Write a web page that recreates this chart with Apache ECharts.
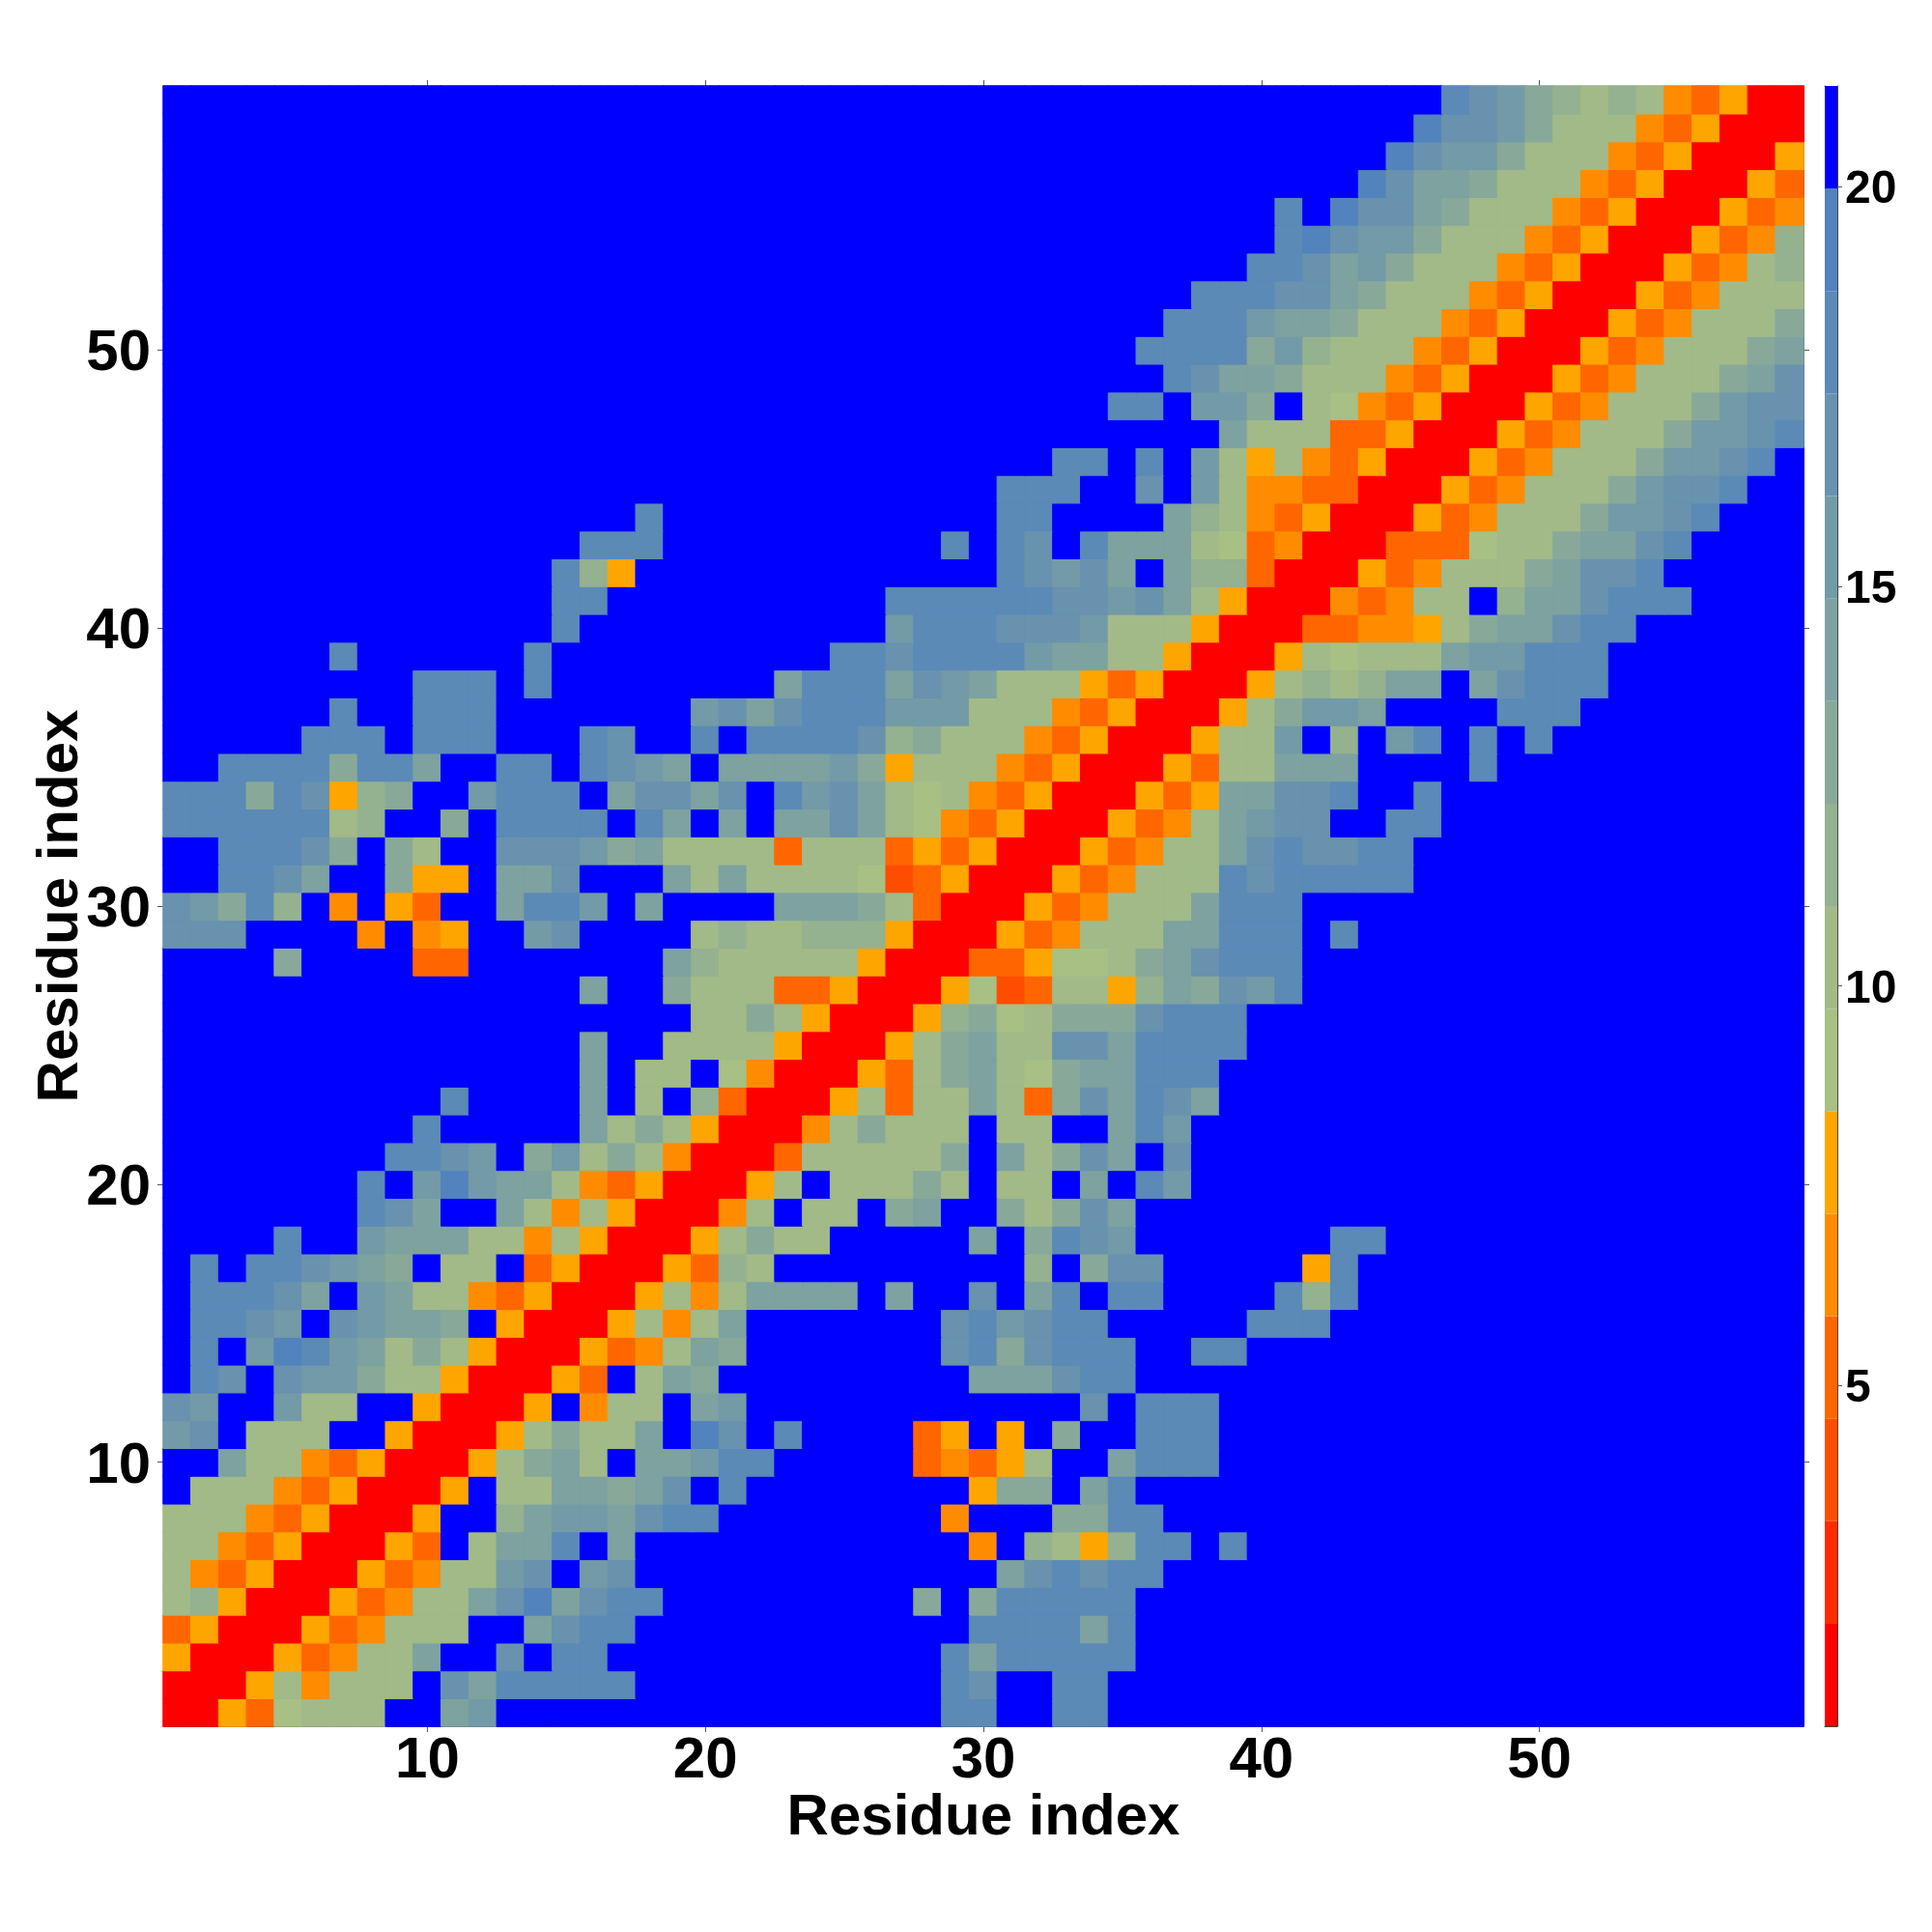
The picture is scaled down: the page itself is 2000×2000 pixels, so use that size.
<!DOCTYPE html>
<html>
<head>
<meta charset="utf-8">
<style>html,body{margin:0;padding:0;background:#fff}#c{width:2000px;height:2000px}</style>
<script src="https://cdn.jsdelivr.net/npm/echarts@6/dist/echarts.min.js"></script>
</head>
<body>
<div id="c"></div>
<script>
// Colour scale: 16 equal classes from red (near) to blue (far)
const scaleMin = 0.735;
const scaleMax = 21.26;
const levelColors = ['#ff0000','#ff2a00','#ff4d00','#ff6600','#ff8c00','#ffa500','#a8c083','#a1ba88','#94b190','#88a999','#7da2a0','#739aa7','#6892ae','#5b8ab7','#5283bc','#0000ff'];
const colorbarTicks = [5, 10, 15, 20];
const axisTickEvery = 10;
const axisTitle = 'Residue index';

// Contact classes per row, row 59 first. "col:classes", class is one hex digit; everything else is the top class (blue)
const rowsTopDown = [
"47:dcb9878743500",
"46:eccb9777435000",
"45:ecbb97774350005",
"44:ecaa977743500053",
"41:d 43:ecca9777435000534",
"41:decbb97774350005348",
"40:ddcab977743500053478",
"38:dddcca9777435000534777",
"37:dddbaa97774350005347779",
"36:dddd9b87774350005347779a",
"37:dcaa97774350005347779ac",
"35:dd 38:bb9 42:764350005347779bcc",
"39:a7773350005347779bbcd",
"33:dd 36:d 38:b7574350005347779bbcd",
"31:ddd 36:c 38:b744330005347779bccd",
"18:d 31:dd 37:a874350005347779bbcd",
"16:ddd 29:d 31:dc 34:daaa76340003336779aacd",
"15:d85 31:dcbca 37:a8830005347779accd",
"15:dd 27:ddddddccbca7500043477 49:8aacddd",
"15:d 27:bdddcccb77750003344579aacdd",
"7:d 14:d 25:ddcddddbaa775000576777abbddd",
"10:ddd 14:d 23:adddacba77753500057878aa 48:acddd",
"7:d 10:ddd 20:bcacdddbbb777435000579bba 49:ddd",
"6:ddd 10:ddd 16:dc 20:d 22:ddddc89777435000577b 43:8 45:bd 48:d 50:d",
"3:dddd9dda 13:dd 16:dcba 21:aaaab957774350005377aaa 48:d",
"1:ddd9dc589 12:bddd 17:accac 23:dbca767435000535aaccd 46:d",
"1:dddddd78 11:9 13:dddd 18:da 21:a 23:aaca764350005347abcc 45:dd",
"3:dddc9 9:97 13:cccb9a77773777353500053477acdccdd",
"3:ddca 9:955 13:aac 19:a7a77776235000534777dcddddd",
"1:cb9d8 7:4 9:53 13:addb 18:a 23:aaa973000534777addd",
"1:ccc 8:4 10:45 14:bc 20:78778885000534777aaddd 43:d",
"5:9 10:33 19:a87777750003356679acddd",
"16:a 19:977733500056237758a9cbd",
"20:7797500058967999cddd",
"16:a 19:77775000579a77ccadddd",
"16:a 18:77 21:640005379a769aaddd",
"11:d 16:a 18:7 20:8300057377a739cadca",
"10:d 16:a7975000479777 31:77 35:adb",
"9:ddcb 14:9b79740003777779 31:a79ca 37:c",
"8:d 10:bebaa743500057 25:77797 31:77 34:a 36:db",
"8:dca 13:a747500047 24:77 27:9a 31:979ca",
"5:d 8:baaa7747500057977 30:a 32:9dcb 43:dd",
"2:d 4:ddcba9 11:77 14:350005387 32:8 34:9cc 42:5d",
"2:dddca 8:ba774350005747aaaa 27:a 30:c 32:ad 35:dd 41:d8d",
"2:ddcb 7:cbaa9 13:50005747a 29:cdbcdd 40:ddd",
"2:d 4:bedba79750005347a9 29:cd9cddd 38:dd",
"2:dc 5:cbb977500053 18:7a9 30:aaacdd",
"1:cb 5:b77 10:50005 16:477 20:ab 34:c 36:ddd",
"1:bc 4:777 9:500057977a 20:ec 23:d 28:35 31:5 33:9 36:ddd",
"3:a77435000579a7 18:aabdd 28:34357 35:addd",
"2:7774350005 13:77aa9ac 21:d 30:599 34:ad",
"1:7774350005 13:8abbacdd 29:4 33:99dd",
"1:7743500053 12:7aad 17:a 30:4 32:8758dd 39:d",
"1:743500053477bc 16:bc 31:acdcdd",
"1:78500053477aceacdd 28:9 30:9ddddd",
"1:35000534777 14:acdd 30:ddddad",
"1:500053477a 13:c 15:dd 29:daddddd",
"1:000574777 11:caddddd 29:dc 33:dd",
"1:00536777 11:ab 29:dd 33:dd"
];

const n = rowsTopDown.length;
const step = (scaleMax - scaleMin) / levelColors.length;
const residues = [];
for (let i = 1; i <= n; i++) residues.push(String(i));

const grid = [];
for (let r = 0; r < n; r++) { grid.push(new Array(n).fill(levelColors.length - 1)); }
rowsTopDown.forEach((row, idx) => {
  const y = n - 1 - idx;
  row.split(' ').forEach(seg => {
    const parts = seg.split(':');
    const start = parseInt(parts[0], 10) - 1;
    for (let k = 0; k < parts[1].length; k++) {
      if (start + k < n) grid[y][start + k] = parseInt(parts[1][k], 16);
    }
  });
});
const cells = [];
for (let y = 0; y < n; y++) for (let x = 0; x < n; x++) {
  const lv = grid[y][x];
  cells.push({ value: [x, y, scaleMin + (lv + 0.5) * step], itemStyle: { borderColor: levelColors[lv], borderWidth: 1 } });
}
const pieces = levelColors.map((c, k) => ({ min: scaleMin + k * step, max: scaleMin + (k + 1) * step, color: c }));

const font = 'Liberation Sans';
const showEvery = i => (i + 1) % axisTickEvery === 0;
const lineDark = { color: '#444', width: 1 };
const catAxis = (position, labelled, extra) => Object.assign({
  type: 'category', data: residues, position, gridIndex: 0, boundaryGap: true,
  axisLine: { show: true, onZero: false, lineStyle: lineDark },
  axisTick: { show: true, length: 6, alignWithLabel: true, interval: showEvery, lineStyle: { color: '#555', width: 1 } },
  axisLabel: { show: labelled, interval: showEvery, margin: 6, fontFamily: font, fontWeight: 'bold', fontSize: 60, color: '#000' },
  splitLine: { show: false }, splitArea: { show: false }
}, extra || {});

const barSeries = levelColors.map((c, k) => ({
  type: 'bar', xAxisIndex: 2, yAxisIndex: 2, stack: 'scale', barWidth: '100%', silent: true,
  itemStyle: { color: c }, data: [k === 0 ? scaleMin + step : step]
}));

const chart = echarts.init(document.getElementById('c'), null, { renderer: 'canvas', width: 2000, height: 2000 });
chart.setOption({
  animation: false,
  backgroundColor: '#fff',
  grid: [
    { left: 169, top: 89, width: 1698, height: 1698 },
    { left: 1889, top: 89, width: 13, height: 1698 }
  ],
  xAxis: [
    catAxis('bottom', true, {
      name: axisTitle, nameLocation: 'middle', nameGap: 65, nameMoveOverlap: false,
      nameTextStyle: { fontFamily: font, fontWeight: 'bold', fontSize: 60, color: '#000' }
    }),
    catAxis('top', false),
    { type: 'category', gridIndex: 1, data: ['scale'], position: 'bottom', axisTick: { show: false }, axisLabel: { show: false }, axisLine: { show: true, onZero: false, lineStyle: lineDark } },
    { type: 'category', gridIndex: 1, data: ['scale'], position: 'top', axisTick: { show: false }, axisLabel: { show: false }, axisLine: { show: true, onZero: false, lineStyle: lineDark } }
  ],
  yAxis: [
    catAxis('left', true, {
      name: axisTitle, nameLocation: 'middle', nameGap: 76, nameMoveOverlap: false,
      nameTextStyle: { fontFamily: font, fontWeight: 'bold', fontSize: 60, color: '#000' },
      axisLabel: {
        show: true, interval: showEvery, margin: 13, formatter: '{a|{value}}',
        rich: { a: { padding: [9, 0, 0, 0], fontFamily: font, fontWeight: 'bold', fontSize: 60, color: '#000' } }
      }
    }),
    catAxis('right', false),
    {
      type: 'value', gridIndex: 1, position: 'right', min: scaleMin, max: scaleMax,
      splitLine: { show: false },
      axisLine: { show: true, onZero: false, lineStyle: lineDark },
      axisTick: { show: true, length: 5, customValues: colorbarTicks, lineStyle: { color: '#555', width: 1 } },
      axisLabel: {
        show: true, margin: 8, customValues: colorbarTicks, hideOverlap: false, formatter: '{a|{value}}',
        rich: { a: { padding: [8, 0, 0, 0], fontFamily: font, fontWeight: 'bold', fontSize: 48, color: '#000' } }
      }
    },
    {
      type: 'value', gridIndex: 1, position: 'left', min: scaleMin, max: scaleMax,
      splitLine: { show: false }, axisTick: { show: false }, axisLabel: { show: false },
      axisLine: { show: true, onZero: false, lineStyle: lineDark }
    }
  ],
  visualMap: {
    type: 'piecewise', show: false, dimension: 2, seriesIndex: 0, pieces: pieces
  },
  series: [
    {
      type: 'heatmap', xAxisIndex: 0, yAxisIndex: 0, data: cells, progressive: 0, silent: true,
      emphasis: { disabled: true }
    }
  ].concat(barSeries)
});
</script>
</body>
</html>
